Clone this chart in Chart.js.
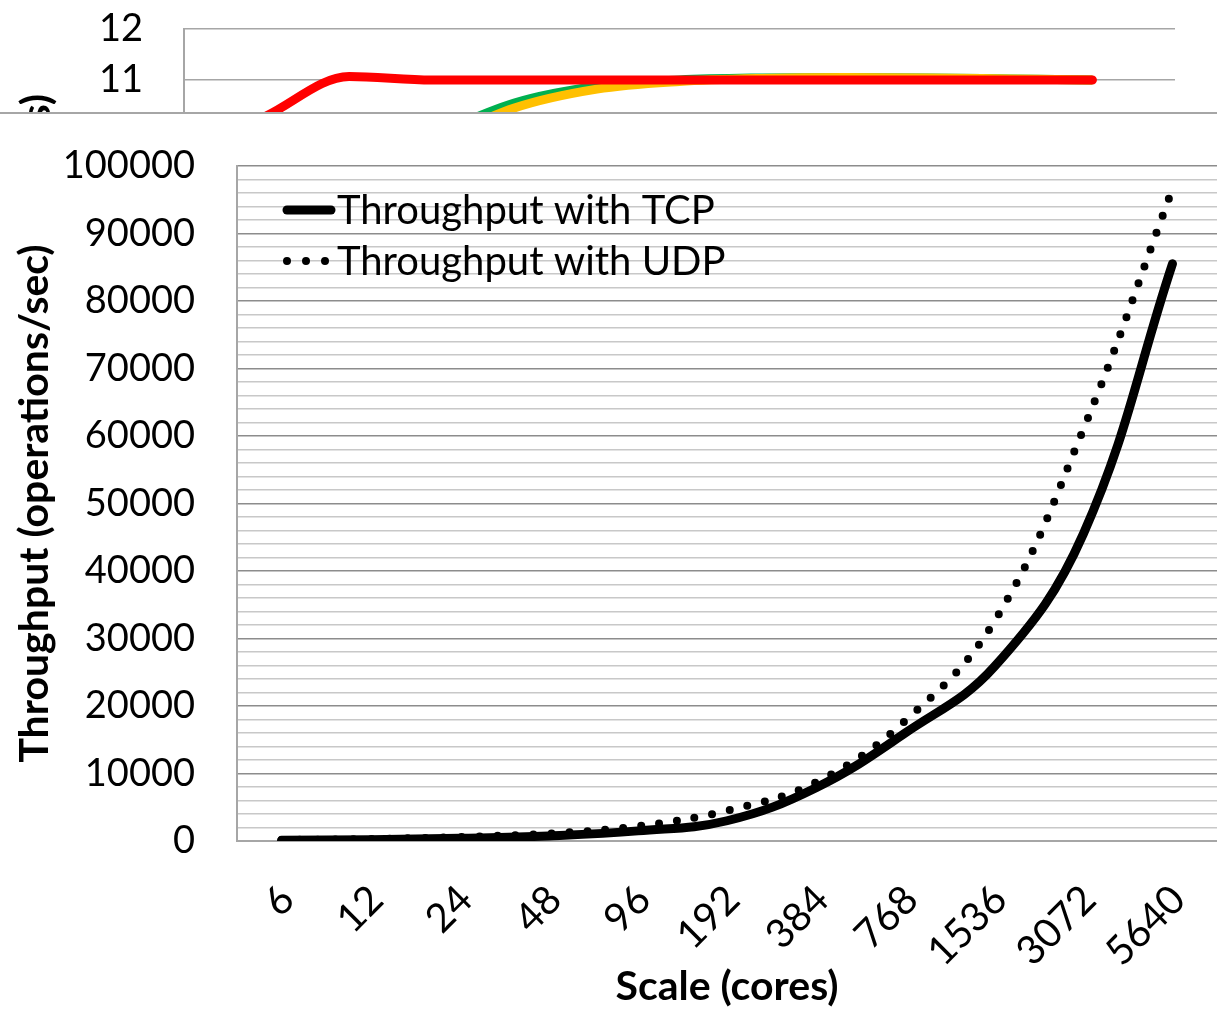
<!DOCTYPE html>
<html>
<head>
<meta charset="utf-8">
<script src="https://cdn.jsdelivr.net/npm/chart.js@4.4.1/dist/chart.umd.min.js"></script>
<style>
	html, body { margin: 0; padding: 0; background: #fff; }
	body { width: 1217px; height: 1010px; position: relative; overflow: hidden; }
	#topWrap { position: absolute; left: 0; top: 0; width: 1217px; height: 112px; overflow: hidden; }
	#mainWrap { position: absolute; left: 0; top: 112px; width: 1217px; height: 897px; border-top: 2px solid #a6a6a6; background: #fff; }
	canvas { display: block; }
</style>
</head>
<body>
<div id="topWrap"><canvas id="topChart" width="1217" height="416"></canvas></div>
<div id="mainWrap"><canvas id="mainChart" width="1217" height="897"></canvas></div>
<script>
// main chart data
var scaleLabels = ['6', '12', '24', '48', '96', '192', '384', '768', '1536', '3072', '5640'];
var tcpThroughput = [100, 200, 400, 750, 1500, 3000, 7900, 16000, 25800, 45500, 85500];
var udpThroughput = [150, 300, 600, 1100, 2200, 4500, 8700, 17800, 32500, 61000, 96600];

// the chart peeking out above (only its top edge is visible)
var topX = [1, 2, 3, 4, 5, 6, 7, 8, 9, 10, 11];
var topRed = [10.3, 11.07, 11.0, 11.0, 11.0, 11.0, 11.0, 11.0, 11.0, 11.0, 11.0];
var topGreen = [8.6, 9.2, 9.9, 10.55, 10.88, 11.0, 11.04, 11.05, 11.04, 11.02, 11.0];
var topOrange = [8.4, 9.0, 9.75, 10.45, 10.82, 10.97, 11.03, 11.05, 11.04, 11.02, 11.0];

var yTickFont = { family: 'Lato', size: 38 };
var xTickFont = { family: 'Lato', size: 40 };
var titleFont = { family: 'Lato', size: 41, weight: 'bold' };
var axisGray = '#a6a6a6';
var clear = 'rgba(0,0,0,0)';

function pairs(xs, ys) {
	return xs.map(function (x, i) { return { x: x, y: ys[i] }; });
}

// first dataset is painted last (on top): red, then orange, then green underneath
new Chart(document.getElementById('topChart'), {
	type: 'line',
	data: {
		datasets: [
			{ data: pairs(topX, topRed), borderColor: '#FF0000', borderWidth: 9, borderCapStyle: 'round', cubicInterpolationMode: 'monotone', pointRadius: 0 },
			{ data: pairs(topX, topOrange), borderColor: '#FFC000', borderWidth: 9, cubicInterpolationMode: 'monotone', pointRadius: 0 },
			{ data: pairs(topX, topGreen), borderColor: '#00B050', borderWidth: 9, cubicInterpolationMode: 'monotone', pointRadius: 0 },
		],
	},
	options: {
		responsive: false,
		animation: false,
		layout: { padding: { top: 29, right: 42, bottom: 30, left: 0 } },
		plugins: { legend: { display: false }, tooltip: { enabled: false } },
		scales: {
			x: { type: 'linear', min: 0, max: 12, display: false },
			y: {
				min: 5,
				max: 12,
				ticks: { stepSize: 1, color: '#000', font: yTickFont, padding: 2 },
				grid: { drawTicks: true, tickLength: 39, tickColor: clear, color: axisGray, lineWidth: 1.5 },
				border: { color: axisGray, width: 2 },
				title: { display: true, text: 'Latency (ms)', color: '#000', font: titleFont, padding: { top: 12, bottom: 0 } },
				afterFit: function (scale) { scale.width = 184; },
			},
		},
	},
});

// legend drawn inside the plot, top left, like the original
var insideLegend = {
	id: 'insideLegend',
	afterDatasetsDraw: function (chart) {
		var ctx = chart.ctx;
		var area = chart.chartArea;
		ctx.save();
		chart.data.datasets.forEach(function (ds, i) {
			var y = area.top + 44 + i * 51;
			var dotted = ds.borderDash && ds.borderDash.length;
			var xa = area.left + 50;
			var xb = area.left + (dotted ? 90 : 94);
			ctx.beginPath();
			ctx.lineWidth = dotted ? ds.borderWidth : 9;
			ctx.strokeStyle = ds.borderColor;
			ctx.lineCap = 'round';
			ctx.setLineDash(dotted ? [0, 19] : []);
			ctx.moveTo(xa, y);
			ctx.lineTo(xb, y);
			ctx.stroke();
			ctx.setLineDash([]);
			ctx.fillStyle = '#000';
			ctx.font = '40px Lato';
			ctx.textBaseline = 'alphabetic';
			ctx.fillText(ds.label, area.left + 100, y + 14);
		});
		ctx.restore();
	},
};

new Chart(document.getElementById('mainChart'), {
	type: 'line',
	data: {
		labels: scaleLabels,
		datasets: [
			{
				label: 'Throughput with TCP',
				data: tcpThroughput,
				borderColor: '#000',
				borderWidth: 9,
				borderCapStyle: 'round',
				tension: 0.4,
				pointRadius: 0,
				fill: false,
			},
			{
				label: 'Throughput with UDP',
				data: udpThroughput,
				borderColor: '#000',
				borderWidth: 8,
				borderDash: [0, 18],
				borderCapStyle: 'round',
				tension: 0.4,
				pointRadius: 0,
				fill: false,
			},
		],
	},
	options: {
		responsive: false,
		animation: false,
		layout: { padding: { top: 52, right: 0, bottom: 0, left: 0 } },
		plugins: { legend: { display: false }, tooltip: { enabled: false } },
		scales: {
			x: {
				offset: true,
				grid: { display: true, drawOnChartArea: false, drawTicks: true, tickLength: 33, color: clear, tickColor: clear },
				border: { color: axisGray, width: 2 },
				ticks: { color: '#000', font: xTickFont, minRotation: 45, maxRotation: 45, autoSkip: false, padding: 2, labelOffset: 6 },
				title: { display: true, text: 'Scale (cores)', color: '#000', font: titleFont, padding: { top: 0, bottom: 0 } },
				afterFit: function (scale) { scale.height = 170; },
			},
			y: {
				min: 0,
				max: 100000,
				ticks: {
					stepSize: 2000,
					autoSkip: false,
					color: '#000',
					font: yTickFont,
					padding: 2,
					callback: function (v) { return v % 10000 === 0 ? v : ''; },
				},
				grid: {
					drawTicks: true,
					tickLength: 40,
					tickColor: clear,
					lineWidth: 1.5,
					color: function (c) { return c.tick && c.tick.value % 10000 === 0 ? '#8c8c8c' : '#c8c8c8'; },
				},
				border: { color: axisGray, width: 2 },
				title: { display: true, text: 'Throughput (operations/sec)', color: '#000', font: titleFont, padding: { top: 10, bottom: 0 } },
				afterFit: function (scale) { scale.width = 237; },
			},
		},
	},
	plugins: [insideLegend],
});
</script>
</body>
</html>
